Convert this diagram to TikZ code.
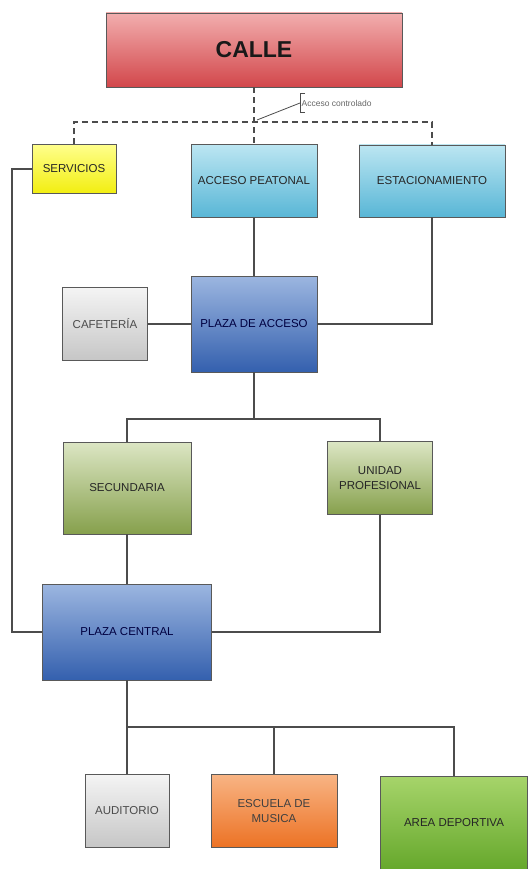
\documentclass[tikz,border=0pt]{standalone}
\usepackage{fontspec}
\setmainfont{Liberation Sans}
\usepackage{tikz}
\usetikzlibrary{positioning}

\definecolor{calletop}{HTML}{F2AEAE}
\definecolor{callebot}{HTML}{D2474B}
\definecolor{servtop}{HTML}{FFFF8C}
\definecolor{servbot}{HTML}{F2EE10}
\definecolor{cyantop}{HTML}{BCE6F2}
\definecolor{cyanbot}{HTML}{58B6D6}
\definecolor{bluetop}{HTML}{9CB6E0}
\definecolor{bluebot}{HTML}{3460AE}
\definecolor{greytop}{HTML}{F4F4F4}
\definecolor{greybot}{HTML}{C6C6C6}
\definecolor{olivetop}{HTML}{DCE6C4}
\definecolor{olivebot}{HTML}{86A04C}
\definecolor{orangetop}{HTML}{F8B484}
\definecolor{orangebot}{HTML}{EC7224}
\definecolor{greentop}{HTML}{A6D46A}
\definecolor{greenbot}{HTML}{66A82C}

\begin{document}
\begin{tikzpicture}[
x=1pt, y=-1pt,
block/.style={rectangle, draw=black!65, line width=0.9pt, inner sep=2pt, align=center,
  text=black!85, font=\fontsize{11.5}{14.5}\selectfont},
calle/.style={block, top color=calletop, bottom color=callebot, font=\bfseries\fontsize{23}{25}\selectfont, text=black!90},
yellowbox/.style={block, top color=servtop, bottom color=servbot},
cyanbox/.style={block, top color=cyantop, bottom color=cyanbot},
bluebox/.style={block, top color=bluetop, bottom color=bluebot, text=blue!25!black},
greybox/.style={block, top color=greytop, bottom color=greybot, text=black!70},
olivebox/.style={block, top color=olivetop, bottom color=olivebot},
orangebox/.style={block, top color=orangetop, bottom color=orangebot, text=black!75},
greenbox/.style={block, top color=greentop, bottom color=greenbot},
link/.style={draw=black!70, line width=1.1pt},
]
\useasboundingbox (0,0) rectangle (527,869);

\node[calle, minimum width=296pt, minimum height=74pt] (calle) at (254,50) {CALLE};

\node[yellowbox, minimum width=84pt, minimum height=49pt] (serv) at (74,169) {SERVICIOS};
\node[cyanbox, minimum width=126pt, minimum height=73pt] (acceso) at (254,181) {ACCESO PEATONAL};
\node[cyanbox, minimum width=146pt, minimum height=72pt] (estac) at (432,181) {ESTACIONAMIENTO};

\node[bluebox, minimum width=126pt, minimum height=96pt] (plazaacc) at (254,324) {PLAZA DE ACCESO};
\node[greybox, minimum width=85pt, minimum height=73pt] (cafe) at (105,324) {CAFETERÍA};

\node[olivebox, minimum width=128pt, minimum height=92pt] (secund) at (127,488) {SECUNDARIA};
\node[olivebox, minimum width=105pt, minimum height=73pt] (unidad) at (380,478) {UNIDAD\\PROFESIONAL};

\node[bluebox, minimum width=169pt, minimum height=96pt] (plazacen) at (127,632) {PLAZA CENTRAL};

\node[greybox, minimum width=84pt, minimum height=73pt] (audit) at (127,811) {AUDITORIO};
\node[orangebox, minimum width=126pt, minimum height=73pt] (escuela) at (274,811) {ESCUELA DE\\MUSICA};
\node[greenbox, minimum width=147pt, minimum height=93pt] (area) at (454,823) {AREA DEPORTIVA};

% junctions
\coordinate (jtop) at (254,122);
\coordinate (jmid) at (254,419);
\coordinate (jbot) at (127,727);
\coordinate (jleft) at (12,169);

% dashed access
\draw[link, dash pattern=on 6pt off 4pt] (calle.south) -- (acceso.north);
\draw[link, dash pattern=on 6pt off 4pt] (serv.north) |- (jtop) -| (estac.north);

% note
\node[font=\fontsize{8.5}{9}\selectfont, text=black!60, inner sep=1.5pt, minimum height=19pt, anchor=west] (nota) at (300,103) {Acceso controlado};
\draw[black!70, line width=0.7pt] ([xshift=5pt]nota.north west) -- (nota.north west) -- (nota.south west) -- ([xshift=5pt]nota.south west);
\draw[black!70, line width=0.8pt] (nota.west) -- (257,120);

% links
\draw[link] (acceso.south) -- (plazaacc.north);
\draw[link] (estac.south) |- (plazaacc.east);
\draw[link] (cafe.east) -- (plazaacc.west);
\draw[link] (plazaacc.south) -- (jmid);
\draw[link] (secund.north) |- (jmid) -| (unidad.north);
\draw[link] (secund.south) -- (plazacen.north);
\draw[link] (unidad.south) |- (plazacen.east);
\draw[link] (serv.west) -- (jleft) |- (plazacen.west);
\draw[link] (plazacen.south) -- (jbot);
\draw[link] (audit.north) |- (jbot) -| (area.north);
\draw[link] (escuela.north) -- (escuela.north |- jbot);

\end{tikzpicture}
\end{document}
